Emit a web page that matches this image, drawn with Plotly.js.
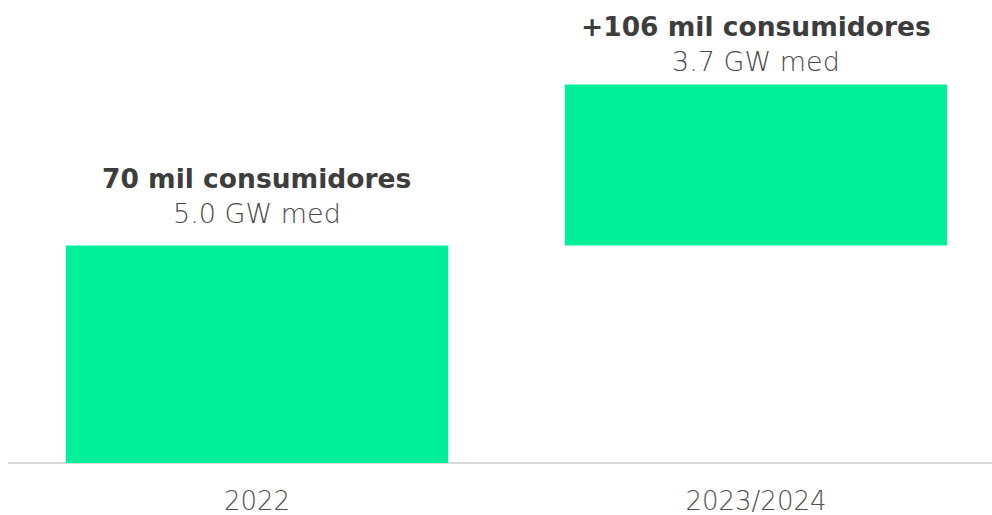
<!DOCTYPE html>
<html><head><meta charset="utf-8">
<script src="https://cdn.plot.ly/plotly-3.0.1.min.js"></script>
<style>html,body{margin:0;padding:0;background:#fff;}#chart{width:992px;height:515px;}</style>
</head><body><div id="chart"></div>
<script>
const categories = ["2022", "2023/2024"];
const gwValues = [5.0, 3.7];
const consumerLabels = ["70 mil consumidores", "+106 mil consumidores"];
const gwLabels = ["5.0 GW med", "3.7 GW med"];

const bases = [];
let acc = 0;
gwValues.forEach(v => { bases.push(acc); acc += v; });

const trace = {
  type: 'bar',
  x: categories,
  y: gwValues,
  base: bases,
  marker: {color: '#00F09A', line: {width: 0}},
  hoverinfo: 'skip',
  width: 0.766
};

// vertical offsets (px) of the two label lines above each bar top
const boldShift = [49, 40];
const lightShift = [14, 5];

const annotations = [];
categories.forEach((c, i) => {
  const top = bases[i] + gwValues[i];
  annotations.push({
    x: i, y: top, xref: 'x', yref: 'y', yanchor: 'bottom', yshift: boldShift[i],
    showarrow: false, align: 'center',
    text: '<b>' + consumerLabels[i] + '</b>',
    font: {family: 'DejaVu Sans, sans-serif', size: 26.5, color: '#3d3d3d'}
  });
  annotations.push({
    x: i, y: top, xref: 'x', yref: 'y', yanchor: 'bottom', yshift: lightShift[i],
    showarrow: false, align: 'center',
    text: gwLabels[i],
    font: {family: 'DejaVu Sans, sans-serif', size: 27, weight: 300, color: '#484848'}
  });
});

const layout = {
  width: 992, height: 515,
  margin: {l: 8, r: 0, t: 0, b: 52},
  paper_bgcolor: '#fff', plot_bgcolor: '#fff',
  showlegend: false,
  xaxis: {
    type: 'category',
    range: [-0.499, 1.473], showgrid: false, zeroline: false,
    showline: false, ticks: '', ticklabelstandoff: 20,
    tickfont: {family: 'DejaVu Sans, sans-serif', size: 26, weight: 300, color: '#505050'}
  },
  yaxis: {
    range: [0, 10.64], showgrid: false, zeroline: true, zerolinecolor: '#d9d9d9', zerolinewidth: 2,
    showticklabels: false, showline: false, ticks: ''
  },
  annotations: annotations
};

Plotly.newPlot('chart', [trace], layout, {displayModeBar: false, staticPlot: true});
</script></body></html>
